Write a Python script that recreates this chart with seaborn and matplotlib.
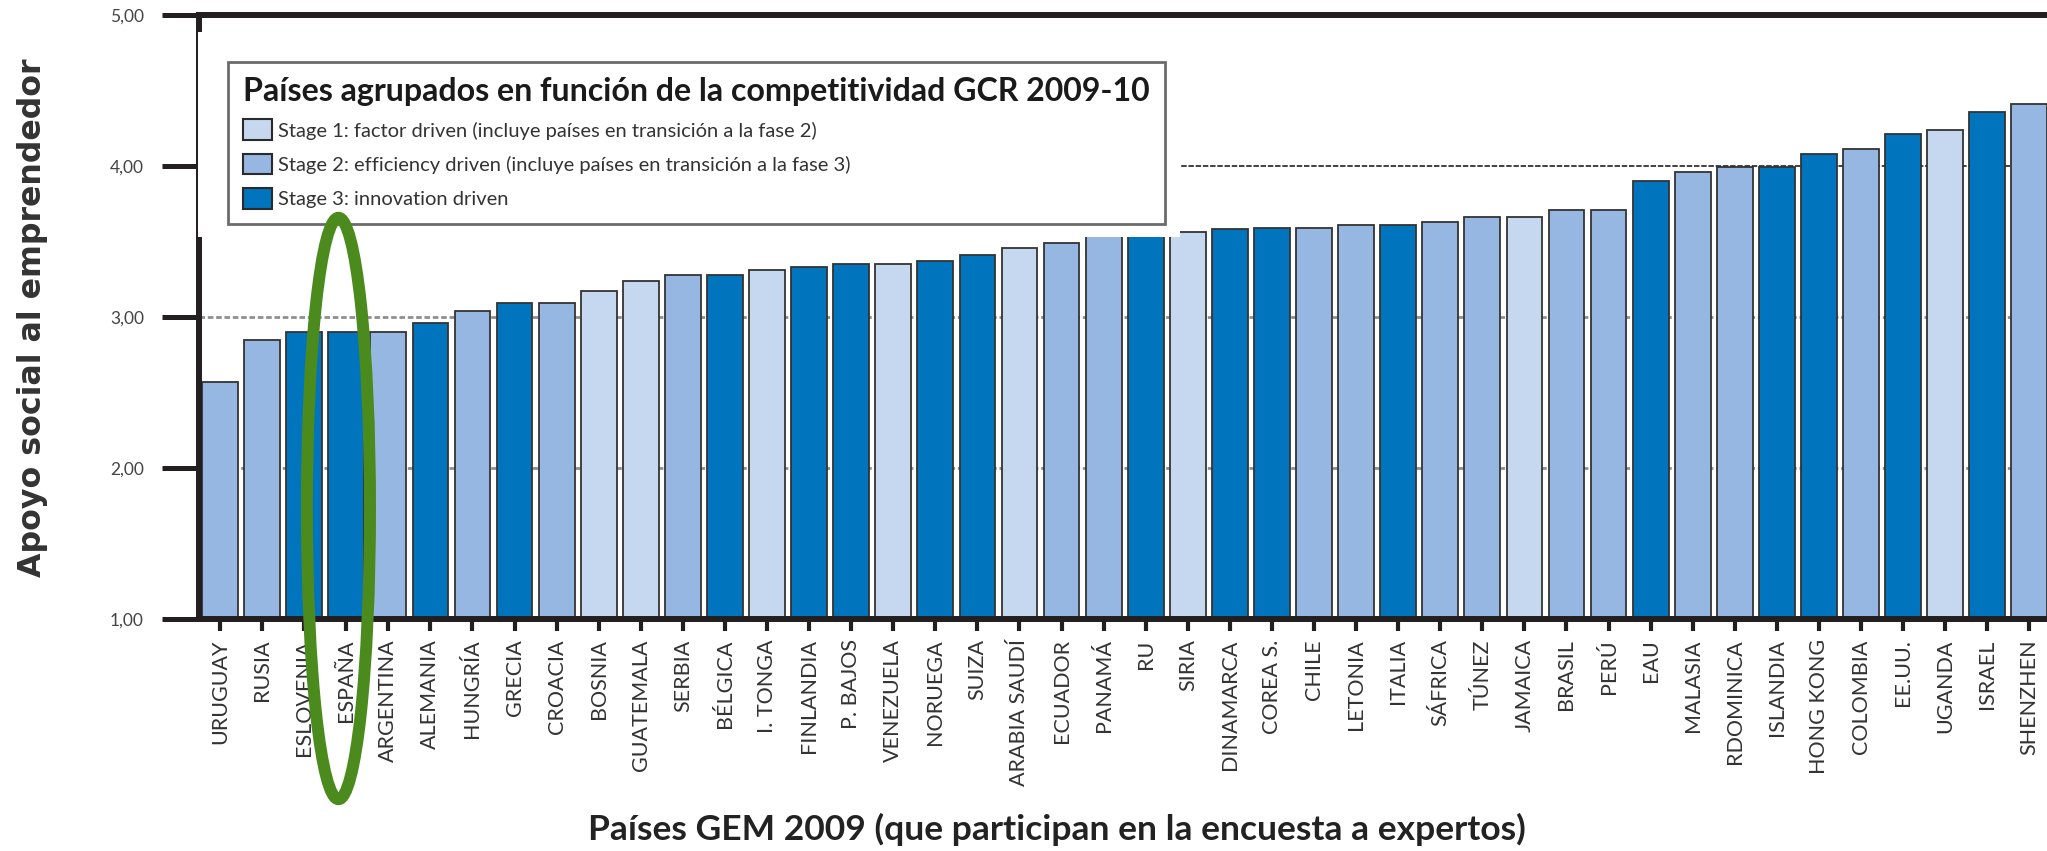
import numpy as np
import pandas as pd
import matplotlib
matplotlib.use('Agg')
import matplotlib.pyplot as plt
import seaborn as sns
from matplotlib.patches import Patch, Rectangle, Ellipse

countries = ['URUGUAY', 'RUSIA', 'ESLOVENIA', 'ESPAÑA', 'ARGENTINA', 'ALEMANIA',
             'HUNGRÍA', 'GRECIA', 'CROACIA', 'BOSNIA', 'GUATEMALA', 'SERBIA',
             'BÉLGICA', 'I. TONGA', 'FINLANDIA', 'P. BAJOS', 'VENEZUELA', 'NORUEGA',
             'SUIZA', 'ARABIA SAUDÍ', 'ECUADOR', 'PANAMÁ', 'RU', 'SIRIA',
             'DINAMARCA', 'COREA S.', 'CHILE', 'LETONIA', 'ITALIA', 'SÁFRICA',
             'TÚNEZ', 'JAMAICA', 'BRASIL', 'PERÚ', 'EAU', 'MALASIA', 'RDOMINICA',
             'ISLANDIA', 'HONG KONG', 'COLOMBIA', 'EE.UU.', 'UGANDA', 'ISRAEL',
             'SHENZHEN']

values = [2.57, 2.85, 2.90, 2.90, 2.90, 2.96, 3.04, 3.09, 3.09, 3.17, 3.24, 3.28,
          3.28, 3.31, 3.33, 3.35, 3.35, 3.37, 3.41, 3.46, 3.49, 3.55, 3.55, 3.56,
          3.58, 3.59, 3.59, 3.61, 3.61, 3.63, 3.66, 3.66, 3.71, 3.71, 3.90, 3.96,
          3.99, 3.99, 4.08, 4.11, 4.21, 4.24, 4.36, 4.41]

stages = [2, 2, 3, 3, 2, 3, 2, 3, 2, 1, 1, 2, 3, 1, 3, 3, 1, 3, 3, 1, 2, 2,
          3, 1, 3, 3, 2, 2, 3, 2, 2, 1, 2, 2, 3, 2, 2, 3, 3, 2, 3, 1, 3, 2]

stage_labels = ['Stage 1: factor driven (incluye países en transición a la fase 2)',
                'Stage 2: efficiency driven (incluye países en transición a la fase 3)',
                'Stage 3: innovation driven']
stage_colors = ['#c6d8f0', '#95b7e2', '#0075be']

y_ticks = [1, 2, 3, 4, 5]
y_ticklabels = ['1,00', '2,00', '3,00', '4,00', '5,00']

legend_title = 'Países agrupados en función de la competitividad GCR 2009-10'
x_title = 'Países GEM 2009 (que participan en la encuesta a expertos)'
y_title = 'Apoyo social al emprendedor'

df = pd.DataFrame({'pais': countries, 'valor': values,
                   'stage': [stage_labels[s - 1] for s in stages]})

sns.set_theme(style='white')
plt.rcParams['font.family'] = ['Lato', 'DejaVu Sans']

fig = plt.figure(figsize=(20.47, 8.51), dpi=100)
ax = fig.add_axes([0.0972, 0.2726, 0.9028, 0.7098])

# líneas de referencia detrás de las barras
ax.axhline(2, color='#8f8f8f', lw=2, ls=(0, (2, 1)), zorder=0.5)
ax.axhline(3, color='#8f8f8f', lw=2, ls=(0, (2, 1)), zorder=0.5)
ax.axhline(4, color='#333333', lw=1.3, ls=(0, (3, 1)), zorder=0.5)

sns.barplot(data=df, x='pais', y='valor', hue='stage', order=countries,
            hue_order=stage_labels, palette=dict(zip(stage_labels, stage_colors)),
            saturation=1, dodge=False, width=0.85, edgecolor='#333333',
            linewidth=1.3, errorbar=None, legend=False, ax=ax)

ax.set_xlim(-0.5, 43.42)
ax.set_ylim(1, 5)
ax.set_yticks(y_ticks)
ax.set_yticklabels(y_ticklabels)
ax.set_xticks(range(len(countries)))
ax.set_xticklabels(countries, rotation=90)
ax.set_xlabel('')
ax.set_ylabel('')

for side in ['left', 'bottom', 'top']:
    ax.spines[side].set_visible(True)
    ax.spines[side].set_linewidth(4.3)
    ax.spines[side].set_color('#231f20')
ax.spines['right'].set_visible(False)

ax.tick_params(axis='y', left=True, direction='out', length=26.6, width=3.6,
               color='#231f20', pad=13, labelsize=12.5, labelcolor='#444444')
ax.tick_params(axis='x', bottom=True, direction='out', length=8.6, width=3,
               color='#231f20', pad=6, labelsize=15.5, labelcolor='#333333')

# recuadro blanco donde va la leyenda
ax.add_patch(Rectangle((-0.0006, 0.6325), 0.5316, 0.3395, transform=ax.transAxes,
                       facecolor='white', edgecolor='none', zorder=3, clip_on=False))

handles = [Patch(facecolor=c, edgecolor='#2a2a2a', linewidth=1.5, label=l)
           for c, l in zip(stage_colors, stage_labels)]
leg = ax.legend(handles=handles, title=legend_title, loc='upper left',
                bbox_to_anchor=(228 / 2047, 1 - 62 / 851), bbox_transform=fig.transFigure,
                frameon=True, fancybox=False, framealpha=1, edgecolor='#6b6b6b',
                fontsize=14.5, title_fontproperties={'weight': 'bold', 'size': 23.1},
                alignment='left', handlelength=1.45, handleheight=1.22,
                handletextpad=0.3, labelspacing=0.66, borderpad=0.75, borderaxespad=0)
leg.get_frame().set_linewidth(2)
leg.set_zorder(5)
leg.get_title().set_color('#1a1a1a')
for t in leg.get_texts():
    t.set_color('#333333')

# elipse verde sobre España
ax.add_patch(Ellipse((2.815, 1.732), 1.50, 3.85, fill=False, edgecolor='#4b8a1d',
                     linewidth=8.6, zorder=6, clip_on=False))

fig.text(1057 / 2047, 1 - 829 / 851, x_title, ha='center', va='center',
         fontsize=25.5, fontweight='bold', color='#222222')
fig.text(33 / 2047, 1 - 318 / 851, y_title, ha='center', va='center', rotation=90,
         fontsize=22.8, fontweight='bold', color='#333333', family='DejaVu Sans')

fig.savefig('out.png', dpi=100)
